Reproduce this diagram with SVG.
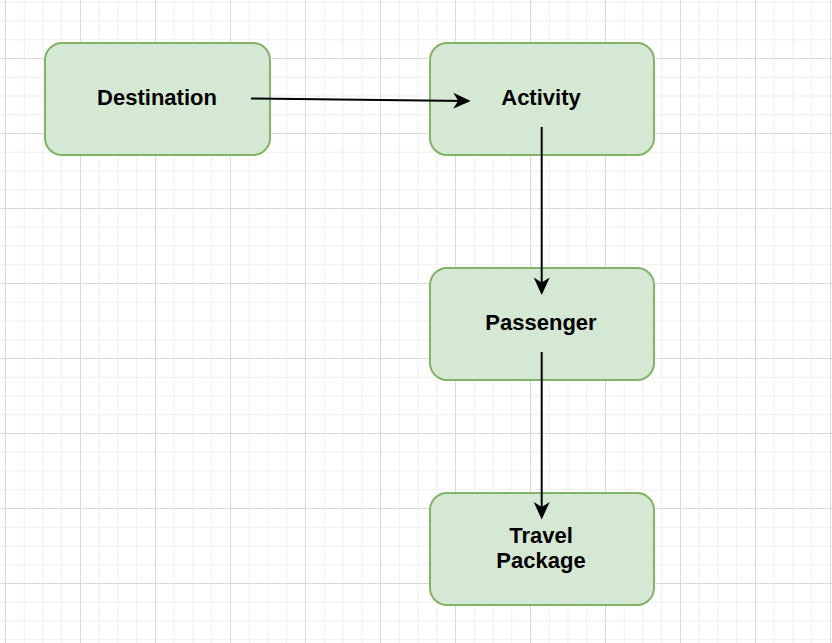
<svg xmlns="http://www.w3.org/2000/svg" width="832" height="643" viewBox="0 0 832 643">
  <defs>
    <pattern id="grid" patternUnits="userSpaceOnUse" x="5" y="-17" width="75" height="75">
      <rect x="18.75" y="0" width="1" height="75" fill="#efefef"/>
      <rect x="37.5" y="0" width="1" height="75" fill="#efefef"/>
      <rect x="56.25" y="0" width="1" height="75" fill="#efefef"/>
      <rect x="0" y="18.75" width="75" height="1" fill="#efefef"/>
      <rect x="0" y="37.5" width="75" height="1" fill="#efefef"/>
      <rect x="0" y="56.25" width="75" height="1" fill="#efefef"/>
      <rect x="0" y="0" width="1" height="75" fill="#dadada"/>
      <rect x="0" y="0" width="75" height="1" fill="#dadada"/>
    </pattern>
    <marker id="arrow" markerUnits="userSpaceOnUse" viewBox="-18 -9 20 18" markerWidth="20" markerHeight="18" refX="-4" refY="0" orient="auto">
      <path d="M0,0 L-17.5,-8 L-12.5,0 L-17.5,8 Z" fill="#000"/>
    </marker>
    <style>
      .node rect { fill: #d5e8d4; stroke: #82b366; stroke-width: 2; }
      .node text { font-family: "Liberation Sans", Arial, Helvetica, sans-serif; font-weight: bold; font-size: 22px; fill: #000; text-anchor: middle; }
      .edge { fill: none; stroke: #000; stroke-width: 2; marker-end: url(#arrow); }
    </style>
  </defs>
  <rect width="832" height="643" fill="#ffffff"/>
  <rect width="832" height="643" fill="url(#grid)"/>

  <g id="destination" class="node">
    <rect x="45" y="43" width="225" height="112" rx="17" ry="17"/>
    <text x="157" y="105">Destination</text>
  </g>
  <g id="activity" class="node">
    <rect x="430" y="43" width="224" height="112" rx="17" ry="17"/>
    <text x="541" y="105">Activity</text>
  </g>
  <g id="passenger" class="node">
    <rect x="430" y="268" width="224" height="112" rx="17" ry="17"/>
    <text x="541" y="330">Passenger</text>
  </g>
  <g id="travel-package" class="node">
    <rect x="430" y="493" width="224" height="112" rx="17" ry="17"/>
    <text x="541" y="543">Travel</text>
    <text x="541" y="568">Package</text>
  </g>

  <g id="connectors">
    <path class="edge" d="M251,98.5 L466.7,100.9"/>
    <path class="edge" d="M541.7,127 L541.7,291"/>
    <path class="edge" d="M541.7,352 L541.7,515.5"/>
  </g>
</svg>
